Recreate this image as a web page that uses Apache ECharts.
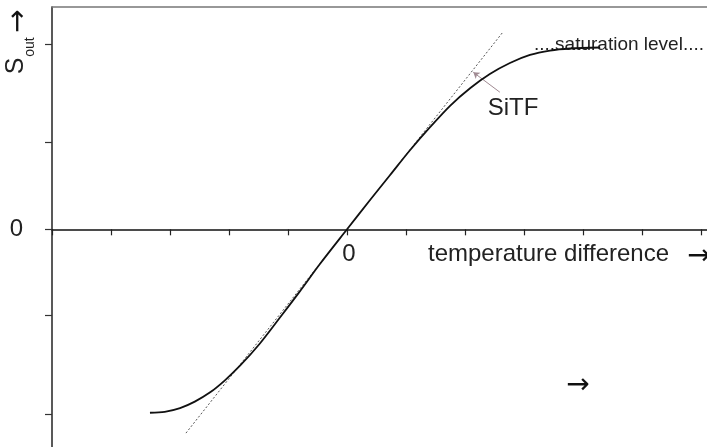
<!DOCTYPE html>
<html>
<head>
<meta charset="utf-8">
<style>html,body{margin:0;padding:0;background:#fff;}#c{width:707px;height:447px;}</style>
<script src="https://cdn.jsdelivr.net/npm/echarts@6/dist/echarts.min.js"></script>
</head>
<body>
<div id="c"></div>
<script>
// tick positions (x: temperature difference units, y: output signal units)
const xTicks = [-5, -4, -3, -2, -1, 0, 1, 2, 3, 4, 5, 6];
const yTicks = [-2, -0.93, 0, 0.94, 2];
const zeroLabels = [0];
// SiTF curve
const curveX = [-3.34, -3.09, -2.83, -2.58, -2.32, -2.07, -1.81, -1.48, -1.14, -0.80, -0.46, 0,
                0.39, 0.73, 1.07, 1.41, 1.75, 2.09, 2.42, 2.76, 3.10, 3.44, 3.78, 4.29];
const curveY = [-1.98, -1.97, -1.93, -1.86, -1.76, -1.63, -1.47, -1.235, -0.955, -0.67, -0.375, 0,
                0.316, 0.586, 0.856, 1.105, 1.336, 1.525, 1.676, 1.795, 1.882, 1.930, 1.952, 1.963];
// tangent (slope at origin)
const tangentX = [-2.73, 2.63];
const tangentY = [-2.20, 2.12];
// pointer from "SiTF" label to the tangent
const pointerFrom = [2.59, 1.48];
const pointerTo = [2.14, 1.695];

const FONT = '"Liberation Sans", Arial, sans-serif';
const AFONT = '28px "DejaVu Sans", sans-serif';
const chart = echarts.init(document.getElementById('c'));
chart.setOption({
  animation: false,
  backgroundColor: '#fff',
  grid: { left: 52, right: 0, top: 7, bottom: 0, containLabel: false, outerBoundsMode: 'none' },
  xAxis: [{
    type: 'value', min: -5, max: 6.1,
    axisLine: { show: true, onZero: true, lineStyle: { color: '#111', width: 1.5 } },
    axisTick: { show: true, length: 6, customValues: xTicks, lineStyle: { color: '#222', width: 1.2 } },
    axisLabel: { show: false },
    splitLine: { show: false }
  }, {
    type: 'value', position: 'top', min: -5, max: 6.1,
    axisLine: { show: true, onZero: false, lineStyle: { color: '#777', width: 1.5 } },
    axisTick: { show: false }, axisLabel: { show: false }, splitLine: { show: false }
  }],
  yAxis: {
    type: 'value', min: -2.35, max: 2.4,
    axisLine: { show: true, onZero: false, lineStyle: { color: '#222', width: 1.5 } },
    axisTick: { show: true, length: 7, customValues: yTicks, lineStyle: { color: '#333', width: 1.2 } },
    axisLabel: { show: true, customValues: zeroLabels, margin: 29, fontSize: 24, fontFamily: FONT, color: '#222' },
    splitLine: { show: false }
  },
  series: [{
    type: 'line',
    data: tangentX.map((x, i) => [x, tangentY[i]]),
    showSymbol: false, silent: true,
    lineStyle: { color: '#555', width: 1, type: [2, 2] }
  }, {
    type: 'line',
    data: curveX.map((x, i) => [x, curveY[i]]),
    smooth: 0.3,
    showSymbol: false, silent: true,
    lineStyle: { color: '#111', width: 1.8 }
  }, {
    type: 'lines', coordinateSystem: 'cartesian2d',
    data: [{ coords: [pointerFrom, pointerTo] }],
    symbol: ['none', 'arrow'], symbolSize: 6, silent: true,
    lineStyle: { color: '#a08a92', width: 1, opacity: 1 }
  }],
  graphic: [
    { type: 'text', x: 16.5, y: 66, rotation: Math.PI / 2,
      style: { text: 'S', font: '25px ' + FONT, fill: '#222', align: 'center', verticalAlign: 'middle' } },
    { type: 'text', x: 30, y: 47, rotation: Math.PI / 2,
      style: { text: 'out', font: '14px ' + FONT, fill: '#222', align: 'center', verticalAlign: 'middle' } },
    { type: 'text', x: 19, y: 21, rotation: Math.PI / 2,
      style: { text: '→', font: AFONT, fill: '#111', align: 'center', verticalAlign: 'middle' } },
    { type: 'text', x: 349, y: 254.6,
      style: { text: '0', font: '24px ' + FONT, fill: '#222', align: 'center', verticalAlign: 'middle' } },
    { type: 'text', x: 513, y: 108.6,
      style: { text: 'SiTF', font: '24px ' + FONT, fill: '#222', align: 'center', verticalAlign: 'middle' } },
    { type: 'text', x: 534, y: 44.5,
      style: { text: '....saturation level....', font: '19px ' + FONT, fill: '#222', align: 'left', verticalAlign: 'middle' } },
    { type: 'text', x: 428, y: 254.6,
      style: { text: 'temperature difference', font: '24px ' + FONT, fill: '#222', align: 'left', verticalAlign: 'middle' } },
    { type: 'text', x: 699, y: 257,
      style: { text: '→', font: AFONT, fill: '#111', align: 'center', verticalAlign: 'middle' } },
    { type: 'text', x: 578, y: 386,
      style: { text: '→', font: AFONT, fill: '#111', align: 'center', verticalAlign: 'middle' } }
  ]
});
</script>
</body>
</html>
